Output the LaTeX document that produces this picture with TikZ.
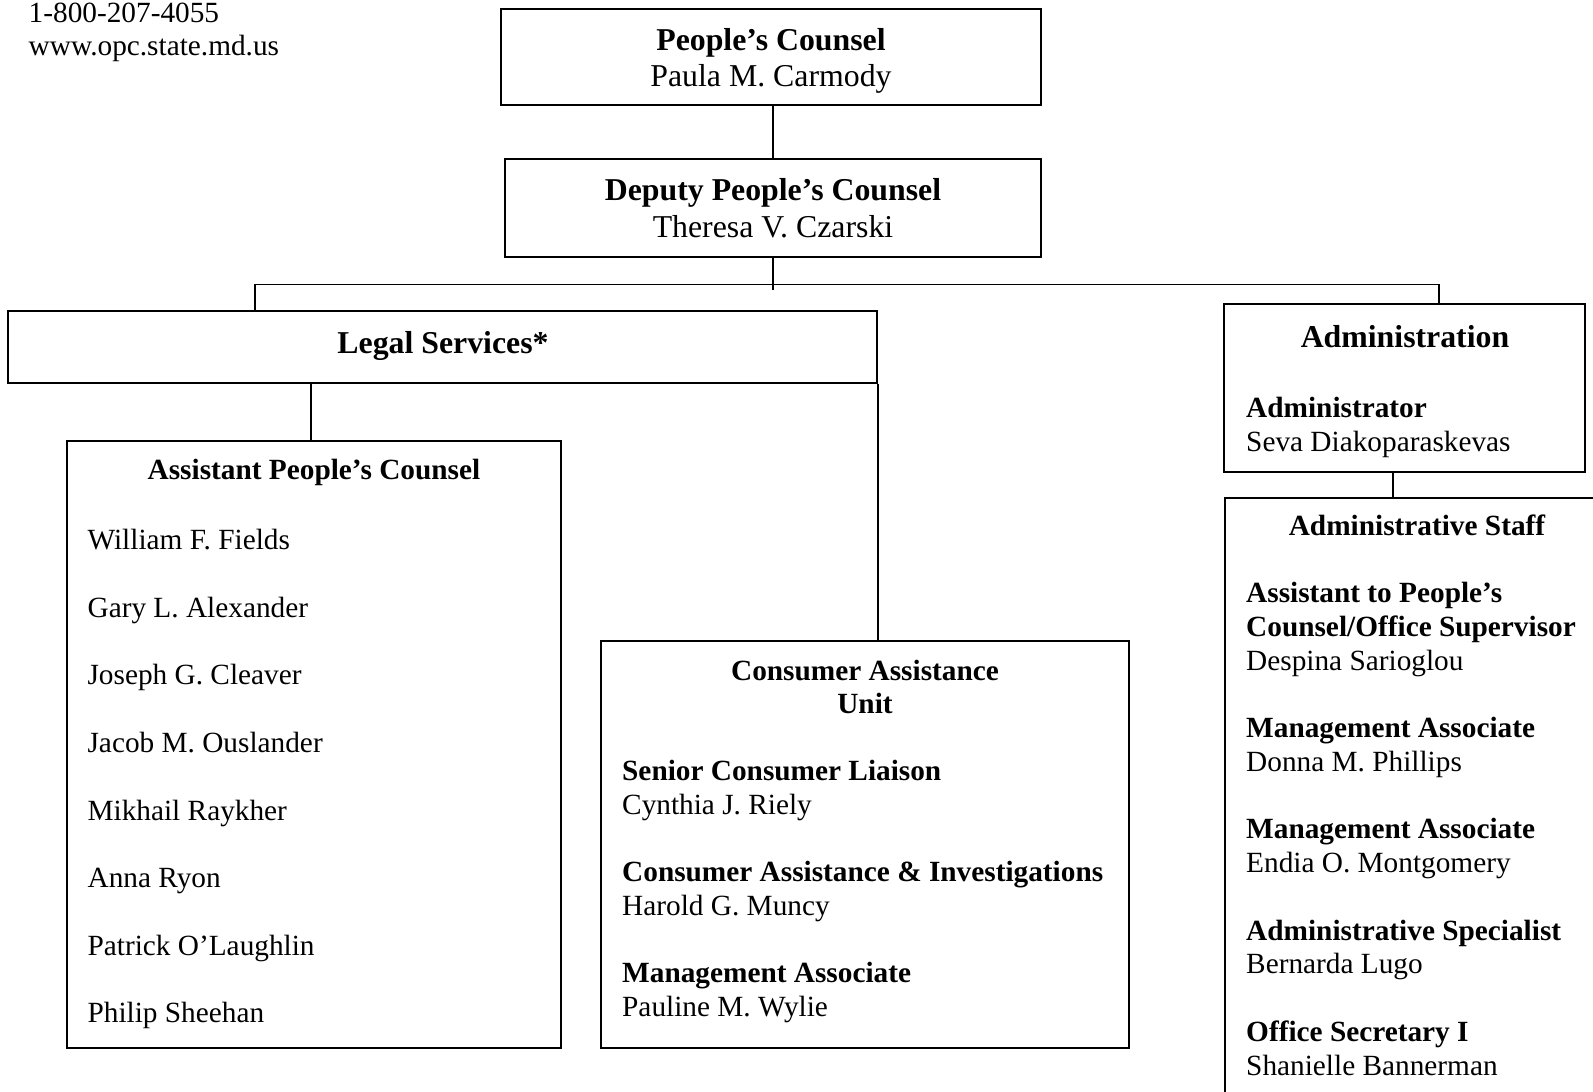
\documentclass[tikz,border=0pt]{standalone}
\usepackage{fontspec}
\setmainfont{Liberation Serif}

\newcommand\bodyfont{\fontsize{29.3}{33.8}\selectfont}
\newcommand\headfont{\fontsize{31.8}{36.6}\selectfont}

\begin{document}
\begin{tikzpicture}
[x=1pt,y=-1pt,
 box/.style={draw=black,line width=1.8pt,inner sep=0pt},
 ln/.style={draw=black,line width=1.8pt},
 role/.style={font=\bodyfont\bfseries,inner sep=0pt,anchor=base west},
 person/.style={font=\bodyfont,inner sep=0pt,anchor=base west},
 head/.style={font=\bodyfont\bfseries,inner sep=0pt,anchor=base}]
\useasboundingbox (0,0) rectangle (1593,1092);

\node[person] (tel) at (28.5,22.5) {1-800-207-4055};
\node[person] (web) at (28.5,55) {www.opc.state.md.us};

% top of the chart
\node[box,minimum width=540pt,minimum height=96pt] (pc) at (771,57) {};
\node[font=\headfont,align=center,inner sep=0pt] (pcT) at (771,61)
  {\textbf{People's Counsel}\\Paula M. Carmody};
\node[box,minimum width=536pt,minimum height=98pt,font=\headfont,align=center] (dpc) at (773,208)
  {\textbf{Deputy People's Counsel}\\Theresa V. Czarski};
\node[box,minimum width=869pt,minimum height=72pt] (legal) at (442.5,347) {};
\node[font=\headfont\bfseries,inner sep=0pt,anchor=base] (legalT) at (443,353) {Legal Services*};
\node[box,minimum width=361pt,minimum height=168pt] (adm) at (1404.5,388) {};
\node[box,minimum width=386pt,minimum height=620pt,anchor=north west] (staff) at (1224,497) {};
\node[box,minimum width=494pt,minimum height=607pt] (apc) at (314,744.5) {};
\node[box,minimum width=528pt,minimum height=407pt] (cau) at (865,844.5) {};

% connectors
\coordinate (dpcEnd) at (773,289.5);
\coordinate (busL) at (255,284.5);
\coordinate (busR) at (1439,284.5);
\coordinate (apcTop) at (311,441);
\draw[ln] (dpc.north |- pc.south) -- (dpc.north);
\draw[ln] (dpc.south) -- (dpcEnd);
\draw[ln] (busL |- legal.north) -- (busL) -- (busR) -- (busR |- adm.north);
\draw[ln] (apcTop |- legal.south) -- (apcTop);
\draw[ln] (legal.south east) -- (legal.south east |- cau.north);
\draw[ln] ([xshift=-11.5pt]adm.south) -- ++(0,25);

% administration
\node[font=\headfont\bfseries,inner sep=0pt,anchor=base] (admT) at (1405,347) {Administration};
\node[role] (admR) at (1246,417) {Administrator};
\node[person] (admP) at (1246,451) {Seva Diakoparaskevas};

\node[head] (staffT) at (1417,535) {Administrative Staff};
\foreach \k/\st/\txt in {2/role/Assistant to People's, 3/role/{Counsel/Office Supervisor},
    4/person/Despina Sarioglou, 6/role/Management Associate, 7/person/Donna M. Phillips,
    9/role/Management Associate, 10/person/Endia O. Montgomery, 12/role/Administrative Specialist,
    13/person/Bernarda Lugo, 15/role/Office Secretary I, 16/person/Shanielle Bannerman}
  \node[\st] (staff\k) at (1246,{535+33.76*\k}) {\txt};

% consumer assistance
\node[head] (cauT1) at (865,680) {Consumer Assistance};
\node[head] (cauT2) at (865,713.6) {Unit};
\foreach \k/\st/\txt in {3/role/Senior Consumer Liaison, 4/person/Cynthia J. Riely,
    6/role/Consumer Assistance \& Investigations, 7/person/Harold G. Muncy,
    9/role/Management Associate, 10/person/Pauline M. Wylie}
  \node[\st] (cau\k) at (622,{680+33.65*\k}) {\txt};

% assistant counsel
\node[head] (apcT) at (314,479) {Assistant People's Counsel};
\foreach \nm [count=\i] in {William F. Fields, Gary L. Alexander, Joseph G. Cleaver, Jacob M. Ouslander,
    Mikhail Raykher, Anna Ryon, Patrick O'Laughlin, Philip Sheehan}
  \node[person] (apc\i) at (87.4,{549.5+67.64*(\i-1)}) {\nm};

\end{tikzpicture}
\end{document}
